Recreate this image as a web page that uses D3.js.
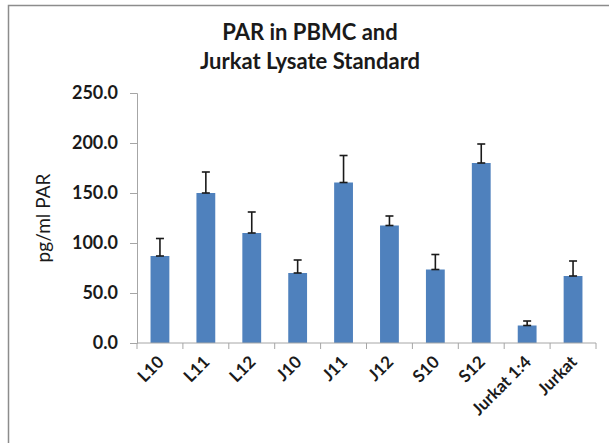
<!DOCTYPE html>
<html>
<head>
<meta charset="utf-8">
<script src="https://cdn.jsdelivr.net/npm/d3@7"></script>
<style>
  body { margin: 0; background: #fff; }
  text { font-family: Lato, 'Open Sans', sans-serif; }
</style>
</head>
<body>
<div id="chart"></div>
<script>
const categories = ['L10', 'L11', 'L12', 'J10', 'J11', 'J12', 'S10', 'S12', 'Jurkat 1:4', 'Jurkat']
const values = [87, 150, 110, 70, 160.5, 117.5, 73.5, 180, 17.5, 67]
const errors = [17.5, 21, 21, 13, 27, 9.5, 15, 19, 4.5, 15]
const yTicks = [0, 50, 100, 150, 200, 250]

const width = 609
const height = 443
const margin = { left: 137, right: 13, top: 93, bottom: 100 }

const svg = d3.select('#chart')
  .append('svg')
  .attr('width', width)
  .attr('height', height)

// chart frame
svg.append('rect')
  .attr('x', 8.5)
  .attr('y', 5.5)
  .attr('width', width + 10)
  .attr('height', height + 10)
  .attr('fill', 'none')
  .attr('stroke', '#8c8c8c')
  .attr('stroke-width', 1.5)

const x = d3.scaleBand()
  .domain(categories)
  .range([margin.left, width - margin.right])
  .paddingInner(0.59)
  .paddingOuter(0.295)

const y = d3.scaleLinear()
  .domain([0, 250])
  .range([height - margin.bottom, margin.top])

svg.append('g')
  .attr('text-anchor', 'middle')
  .attr('font-weight', '700')
  .attr('font-size', '22px')
  .attr('fill', '#1a1a1a')
  .selectAll('text')
  .data(['PAR in PBMC and', 'Jurkat Lysate Standard'])
  .join('text')
  .attr('x', 310)
  .attr('y', (d, i) => 40 + i * 29)
  .text(d => d)

// y axis
const yAxis = svg.append('g')
  .attr('transform', `translate(${margin.left},0)`)
  .call(d3.axisLeft(y).tickValues(yTicks).tickSize(7).tickPadding(12).tickFormat(d3.format('.1f')))
yAxis.select('.domain').attr('stroke', '#a6a6a6')
yAxis.selectAll('.tick line').attr('stroke', '#a6a6a6')
yAxis.selectAll('.tick text')
  .attr('font-size', '18px')
  .attr('font-weight', '700')
  .attr('fill', '#1a1a1a')
  .style('font-family', 'Lato, sans-serif')

svg.append('text')
  .attr('transform', `translate(50,218) rotate(-90)`)
  .attr('text-anchor', 'middle')
  .attr('font-size', '19px')
  .attr('fill', '#1a1a1a')
  .text('pg/ml PAR')

// bars
svg.append('g')
  .selectAll('rect')
  .data(categories)
  .join('rect')
  .attr('x', d => x(d))
  .attr('width', x.bandwidth())
  .attr('y', (d, i) => y(values[i]))
  .attr('height', (d, i) => y(0) - y(values[i]))
  .attr('fill', '#4f81bd')

// error bars
const eb = svg.append('g')
  .attr('stroke', '#1a1a1a')
  .attr('stroke-width', 1.6)
  .selectAll('g')
  .data(categories)
  .join('g')
  .attr('transform', d => `translate(${x(d) + x.bandwidth() / 2},0)`)
eb.append('line')
  .attr('y1', (d, i) => y(values[i]))
  .attr('y2', (d, i) => y(values[i] + errors[i]))
eb.append('line')
  .attr('x1', -4).attr('x2', 4)
  .attr('y1', (d, i) => y(values[i] + errors[i]))
  .attr('y2', (d, i) => y(values[i] + errors[i]))
eb.append('line')
  .attr('x1', -4).attr('x2', 4)
  .attr('y1', (d, i) => y(values[i]))
  .attr('y2', (d, i) => y(values[i]))

// x axis
const step = x.step()
const edges = d3.range(categories.length + 1).map(i => margin.left + i * step)
const xg = svg.append('g')
xg.append('line')
  .attr('x1', margin.left).attr('x2', width - margin.right)
  .attr('y1', y(0)).attr('y2', y(0))
  .attr('stroke', '#a6a6a6')
xg.selectAll('.xt')
  .data(edges)
  .join('line')
  .attr('x1', d => d).attr('x2', d => d)
  .attr('y1', y(0)).attr('y2', y(0) + 6)
  .attr('stroke', '#a6a6a6')

xg.selectAll('text')
  .data(categories)
  .join('text')
  .attr('transform', d => `translate(${x(d) + x.bandwidth() / 2 + 5},${y(0) + 20}) rotate(-45)`)
  .attr('text-anchor', 'end')
  .attr('font-size', '17px')
  .attr('font-weight', '700')
  .attr('fill', '#1a1a1a')
  .text(d => d)
</script>
</body>
</html>
